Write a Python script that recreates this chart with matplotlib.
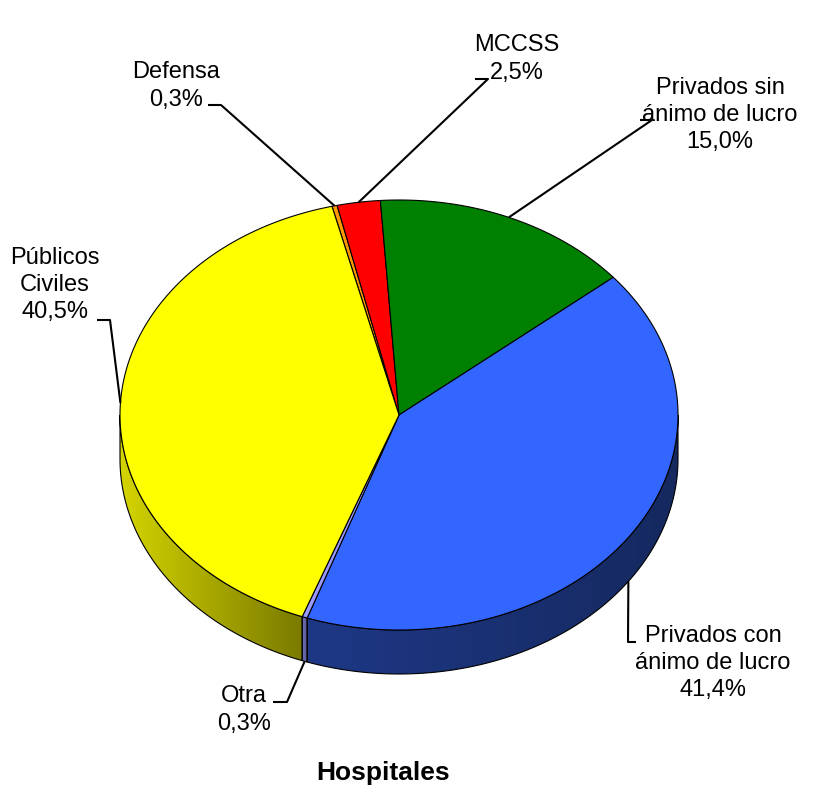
import numpy as np
import matplotlib
matplotlib.use("Agg")
import matplotlib.pyplot as plt
from matplotlib.patches import Polygon
from matplotlib.colors import to_rgb

# ---- data ----
labels = ['Defensa', 'MCCSS', 'Privados sin\nánimo de lucro',
          'Privados con\nánimo de lucro', 'Otra', 'Públicos\nCiviles']
values = [0.3, 2.5, 15.0, 41.4, 0.3, 40.5]
colors = ['#FF9900', '#FF0000', '#008000', '#3366FF', '#9999FF', '#FFFF00']
side_left = ['#CC7A00', '#CC0000', '#006000', '#1E3886', '#7070B8', '#D4D400']
side_right = ['#995C00', '#990000', '#004000', '#15295F', '#5A5A99', '#7A7A00']
title = 'Hospitales'

# ---- layout ----
W, H = 820, 790
cx, cy, rx, ry, depth = 399, 415, 279, 215, 44
start_angle = 103.9  # degrees, slices go clockwise

fig = plt.figure(figsize=(W / 100, H / 100), dpi=100)
ax = fig.add_axes([0, 0, 1, 1])
ax.set_xlim(0, W)
ax.set_ylim(H, 0)
ax.axis('off')

plt.rcParams['font.family'] = ['Liberation Sans', 'DejaVu Sans']


def pt(t_deg, dy=0.0):
    t = np.radians(t_deg)
    return cx + rx * np.cos(t), cy - ry * np.sin(t) + dy


total = sum(values)
angles = []
a = start_angle
for v in values:
    span = 360.0 * v / total
    angles.append((a, a - span))
    a -= span


def norm_front(t1, t2):
    res = []
    for k in range(-2, 3):
        lo, hi = -180 + 360 * k, 0 + 360 * k
        a_lo, a_hi = max(t2, lo), min(t1, hi)
        if a_hi > a_lo:
            res.append((a_lo, a_hi))
    return res


# ---- sides ----
for i, (t1, t2) in enumerate(angles):
    for lo, hi in norm_front(t1, t2):
        ts = np.linspace(hi, lo, 120)
        top = [pt(t) for t in ts]
        bot = [pt(t, depth) for t in ts[::-1]]
        poly = Polygon(top + bot, closed=True, facecolor='none',
                       edgecolor='black', linewidth=0.8, zorder=3)
        ax.add_patch(poly)
        xs = [p[0] for p in top]
        x0, x1 = min(xs), max(xs)
        c0 = np.array(to_rgb(side_left[i]))
        c1 = np.array(to_rgb(side_right[i]))
        n = 200
        fr = np.linspace(0, 1, n)[None, :, None]
        img = c0[None, None, :] * (1 - fr) + c1[None, None, :] * fr
        ys = [p[1] for p in top + bot]
        im = ax.imshow(img, extent=(x0, x1, max(ys), min(ys)),
                       aspect='auto', zorder=2, interpolation='bilinear')
        clip = Polygon(top + bot, closed=True, transform=ax.transData)
        im.set_clip_path(clip)

ax.set_xlim(0, W)
ax.set_ylim(H, 0)

# ---- tops ----
for i, (t1, t2) in enumerate(angles):
    ts = np.linspace(t1, t2, max(int((t1 - t2) * 2), 4))
    pts = [(cx, cy)] + [pt(t) for t in ts]
    ax.add_patch(Polygon(pts, closed=True, facecolor=colors[i],
                         edgecolor='black', linewidth=0.8, zorder=4))

# ---- labels ----
label_pos = [(176, 86), (517, 59), (720, 115), (713, 663), (244, 710), (55, 285)]
elbows = [[(208, 105), (221, 105)],
          [(475, 79), (488, 79)],
          [(640, 120), (652, 120)],
          [(636, 642), (628, 642)],
          [(273, 702), (287, 702)],
          [(97, 320), (110, 320)]]
for i, (t1, t2) in enumerate(angles):
    pct = f"{values[i]:.1f}".replace('.', ',') + '%'
    ax.text(*label_pos[i], labels[i] + '\n' + pct, ha='center', va='center',
            fontsize=17, linespacing=1.3, zorder=6)
    tm = (t1 + t2) / 2
    on_front = np.sin(np.radians(tm)) < 0 and i in (3, 4)
    ex, ey = pt(tm, depth if on_front else 0)
    xs = [elbows[i][0][0], elbows[i][1][0], ex]
    ys = [elbows[i][0][1], elbows[i][1][1], ey]
    ax.plot(xs, ys, color='black', linewidth=1.5, zorder=5,
            solid_capstyle='butt')

ax.text(383, 773, title, ha='center', va='center', fontsize=19,
        fontweight='bold')

fig.savefig('out.png', dpi=100)
